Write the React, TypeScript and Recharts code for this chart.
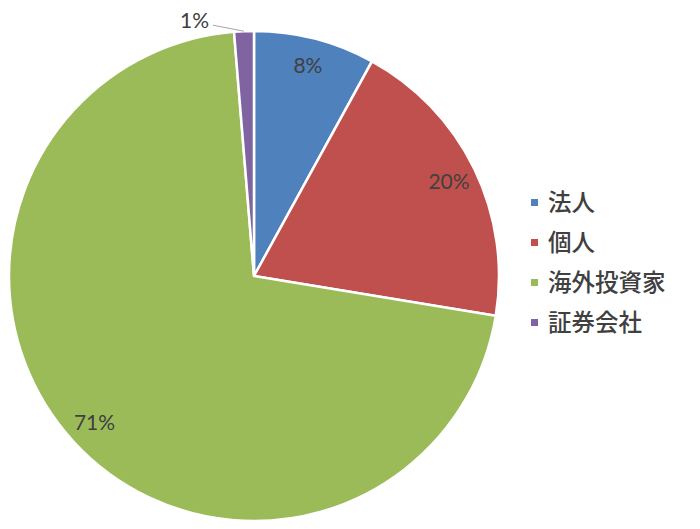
import { PieChart, Pie, Cell, Legend } from 'recharts'

// 投資部門別の保有比率 (%)
const categories = ['法人', '個人', '海外投資家', '証券会社']
const shares = [8.0, 19.6, 71.1, 1.3]
const colors = ['#4f81bd', '#c0504d', '#9bbb59', '#8064a2']
const gridColumns = [47, 131, 214, 298, 382, 465, 549, 633]

const chartData = categories.map((name, i) => ({ name, value: shares[i] }))

const RAD = Math.PI / 180
const labelFont = 'Lato, "Open Sans", sans-serif'

const renderLabel = (props: any) => {
    const { cx, cy, midAngle, outerRadius, index, value } = props
    const text = `${Math.round(value)}%`
    const cos = Math.cos(-midAngle * RAD)
    const sin = Math.sin(-midAngle * RAD)

    // small slice: label sits outside with a leader line
    if (value < 3) {
        const ax = cx + outerRadius * cos
        const ay = cy + outerRadius * sin
        const lx = ax - 31
        const ly = ay - 6
        return (
            <g key={index}>
                <path d={`M${ax},${ay}L${lx},${ly}`} stroke="#a6a6a6" strokeWidth={1} fill="none" />
                <text x={lx - 4} y={ly - 6} textAnchor="end" dominantBaseline="central"
                    fill="#404040" fontSize={21} fontFamily={labelFont}>
                    {text}
                </text>
            </g>
        )
    }

    const r = outerRadius * 0.885
    return (
        <text x={cx + r * cos} y={cy + r * sin - 1} textAnchor="middle" dominantBaseline="central"
            fill="#404040" fontSize={21} fontFamily={labelFont} key={index}>
            {text}
        </text>
    )
}

const LegendContent = () => (
    <div style={{ fontFamily: '"Noto Sans CJK JP", sans-serif', fontSize: 23.5, fontWeight: 500, color: '#404040' }}>
        {categories.map((name, i) => (
            <div key={name} style={{ display: 'flex', alignItems: 'center', height: 40 }}>
                <span style={{ width: 7, height: 7, background: colors[i], marginRight: 10, display: 'inline-block' }} />
                <span style={{ lineHeight: 1 }}>{name}</span>
            </div>
        ))}
    </div>
)

export default function App() {
    return (
        <div style={{ position: 'relative', width: 700, height: 529, margin: -8, background: '#fff', overflow: 'hidden' }}>
            {/* spreadsheet grid peeking in at the bottom */}
            <div style={{ position: 'absolute', left: 0, top: 523, width: 675, height: 1, background: '#d4d4d4' }} />
            {gridColumns.map((x) => (
                <div key={x} style={{ position: 'absolute', left: x, top: 523, width: 1, height: 6, background: '#d4d4d4' }} />
            ))}

            <div style={{ position: 'absolute', left: 0, top: 0 }}>
                <PieChart width={700} height={529} margin={{ top: 0, right: 0, bottom: 0, left: 0 }}>
                    <Pie
                        data={chartData}
                        dataKey="value"
                        nameKey="name"
                        cx={254}
                        cy={276}
                        outerRadius={245}
                        startAngle={90}
                        endAngle={-270}
                        stroke="#ffffff"
                        strokeWidth={2.5}
                        label={renderLabel}
                        labelLine={false}
                        isAnimationActive={false}
                    >
                        {chartData.map((d, i) => (
                            <Cell key={d.name} fill={colors[i]} />
                        ))}
                    </Pie>
                    <Legend
                        content={<LegendContent />}
                        layout="vertical"
                        wrapperStyle={{ position: 'absolute', left: 531, top: 182, width: 169 }}
                    />
                </PieChart>
            </div>
        </div>
    )
}
